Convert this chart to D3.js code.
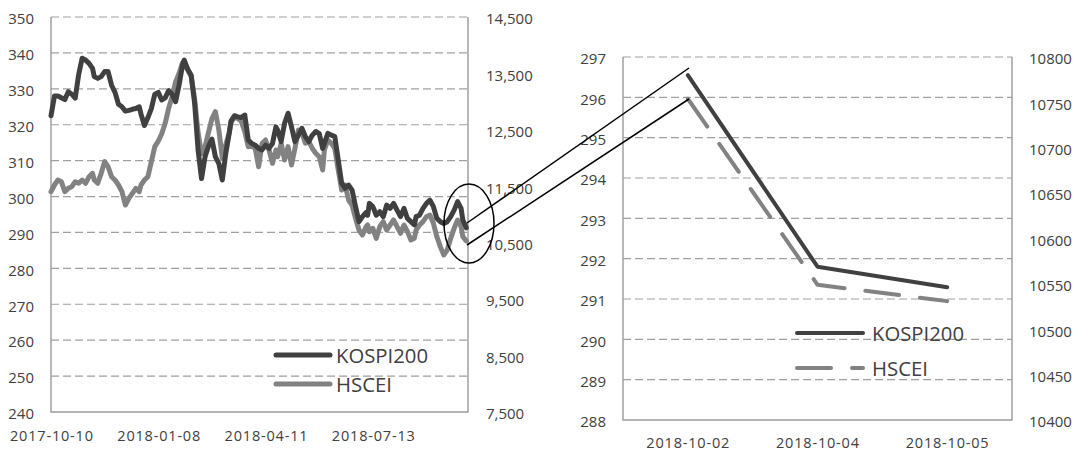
<!DOCTYPE html>
<html><head><meta charset="utf-8">
<script src="https://cdn.jsdelivr.net/npm/d3@7"></script>
<style>
body{margin:0;background:#fff}
svg{display:block}
text{font-family:"Open Sans","Noto Sans",sans-serif;fill:#404040}
</style>
</head><body>
<svg id="c" width="1078" height="452"></svg>
<script>
// ---------- DATA ----------
const seriesNames = ["KOSPI200", "HSCEI"];
// left chart: trading-day index (0 = 2017-10-10) of each sample
const leftDays = [0,2,4,6,8,10,12,14,16,18,20,22,24,25,27,29,31,33,35,37,39,41,43,45,47,49,51,52,54,56,58,60,
  62,64,66,68,70,72,74,76,77,79,81,83,85,87,89,91,93,95,97,99,101,103,104,106,108,110,112,114,116,
  118,120,122,124,126,128,130,131,133,135,137,139,141,143,145,147,149,151,153,155,157,158,160,162,164,166,168,170,172,174,176,178,180,182,
  183,184,186,188,190,192,194,196,198,200,202,204,206,208,210,211,213,215,217,219,221,223,225,227,229,231,233,235,237,238,240];
const kospiLeft = [322.5,328,328,327.5,327,329.2,328.5,327.4,334,338.5,338,337.1,335.7,333.4,332.9,333.4,334.8,334.8,331,329,325.7,325,323.8,324,324.3,324.5,325,323,319.8,322,324.5,328.5,
  329,326.9,327.5,329.5,328.5,326.4,331,336.6,338,335.5,333.8,326,313,305,311,314,316,311.1,309.2,304.6,312,317.6,321,322.5,322.2,322,322.7,315.7,314.8,
  314.3,313.4,313,314.3,313.4,314.8,319.4,318.5,315.3,320.4,323.2,319.4,315.3,317.1,319,316.7,315.3,317.1,318.1,317.6,313.4,314.8,317.6,317.1,316.7,310.2,303.7,302.3,303.2,301.8,297.2,293,294.4,295.5,
  294.8,298.1,297.2,294.8,295.8,294.4,297.6,296.7,298.1,296.2,294.4,296.7,293.9,293,292.1,294.4,294.8,296.7,298.1,299,297.2,293.9,293,292.5,293,294.4,296.2,298.6,296.7,293.5,291.3];
const hsceiLeft = [11404,11523,11611,11581,11404,11464,11493,11581,11553,11611,11553,11670,11730,11611,11553,11730,11936,11847,11670,11611,11523,11404,11168,11287,11375,11464,11404,11523,11611,11670,11936,12202,
  12300,12430,12620,12880,13088,13350,13500,13690,13640,13560,13450,13050,12450,12080,12200,12450,12700,12822,12500,12000,12232,12450,12620,12734,12700,12650,12467,12200,12210,
  12173,11847,12262,12320,12143,11907,12143,12024,12262,11966,12202,11877,12173,12498,12439,12262,12291,12173,12085,12024,11789,12143,12320,12262,12173,11789,11434,11523,11257,11168,10933,10725,10637,10780,
  10814,10696,10755,10578,10784,10873,10725,10814,10903,10784,10667,10814,10696,10548,10578,10725,10814,10873,10962,10991,10844,10607,10430,10282,10371,10578,10755,10903,10784,10607,10531];
const leftDateLabels = ["2017-10-10", "2018-01-08", "2018-04-11", "2018-07-13"];
const leftDateLabelDays = [0, 62, 124, 186];
const leftKospiTicks = [240,250,260,270,280,290,300,310,320,330,340,350];
const leftHsceiTicks = [7500,8500,9500,10500,11500,12500,13500,14500];

const rightDates = ["2018-10-02", "2018-10-04", "2018-10-05"];
const kospiRight = [296.55, 291.8, 291.29];
const hsceiRight = [10754, 10549, 10531];
const rightKospiTicks = [288,289,290,291,292,293,294,295,296,297];
const rightHsceiTicks = [10400,10450,10500,10550,10600,10650,10700,10750,10800];

// ---------- STYLE ----------
const cK = "#404040", cH = "#828282", cGrid = "#a0a0a0", cAxis = "#9a9a9a";
const FS = 15;
const svg = d3.select("#c");

function styleAxis(g){
  g.select(".domain").remove();
  g.selectAll("text").attr("font-size", FS).attr("font-family", '"Open Sans","Noto Sans",sans-serif').attr("fill", "#404040");
}
function dateText(g){
  g.selectAll("text").attr("font-size", 14.5).attr("textLength", 83).attr("lengthAdjust", "spacing");
}

// ---------- LEFT CHART ----------
const L = {x0:51, x1:468, y0:17, y1:412};
const xL = d3.scaleLinear().domain([0, 241]).range([L.x0, L.x1]);
const yLk = d3.scaleLinear().domain([240, 350]).range([L.y1, L.y0]);
const yLh = d3.scaleLinear().domain([7500, 14500]).range([L.y1, L.y0]);

svg.append("g").selectAll("line").data(leftKospiTicks.slice(1)).join("line")
  .attr("x1", L.x0).attr("x2", L.x1).attr("y1", d=>yLk(d)).attr("y2", d=>yLk(d))
  .attr("stroke", cGrid).attr("stroke-width", 1.2).attr("stroke-dasharray", "8,4");
svg.append("path").attr("d", `M${L.x0},${L.y0}V${L.y1}H${L.x1}V${L.y0}`)
  .attr("fill","none").attr("stroke", cAxis).attr("stroke-width", 1.4);

svg.append("g").attr("transform", `translate(${L.x0},0)`)
  .call(d3.axisLeft(yLk).tickValues(leftKospiTicks).tickSize(0).tickPadding(17))
  .call(styleAxis).selectAll("text").attr("dy", "0.45em");
svg.append("g").attr("transform", `translate(${L.x1},0)`)
  .call(d3.axisRight(yLh).tickValues(leftHsceiTicks).tickSize(0).tickPadding(18).tickFormat(d3.format(",")))
  .call(styleAxis).selectAll("text").attr("dy", "0.45em");
svg.append("g").attr("transform", `translate(0,${L.y1})`)
  .call(d3.axisBottom(xL).tickValues(leftDateLabelDays).tickSize(0).tickPadding(19).tickFormat((d,i)=>leftDateLabels[i]))
  .call(styleAxis).call(dateText);

const leftPts = leftDays.map((d,i)=>({d, k:kospiLeft[i], h:hsceiLeft[i]}));
svg.append("path").datum(leftPts)
  .attr("d", d3.line().x(p=>xL(p.d)).y(p=>yLh(p.h)))
  .attr("fill","none").attr("stroke", cH).attr("stroke-width", 5).attr("stroke-linejoin","round").attr("stroke-linecap","round");
svg.append("path").datum(leftPts)
  .attr("d", d3.line().x(p=>xL(p.d)).y(p=>yLk(p.k)))
  .attr("fill","none").attr("stroke", cK).attr("stroke-width", 5).attr("stroke-linejoin","round").attr("stroke-linecap","round");

// left legend
const lg = svg.append("g");
[[355, cK, seriesNames[0], 92], [384, cH, seriesNames[1], 56]].forEach(([y,c,t,w])=>{
  lg.append("line").attr("x1",276).attr("x2",330).attr("y1",y).attr("y2",y)
    .attr("stroke",c).attr("stroke-width",5).attr("stroke-linecap","round");
  lg.append("text").attr("x",336).attr("y",y+8).attr("font-size",20)
    .attr("textLength", w).attr("lengthAdjust","spacingAndGlyphs").text(t);
});

// ---------- RIGHT CHART ----------
const R = {x0:623, x1:1012, y0:57, y1:420};
const xR = d3.scaleBand().domain(rightDates).range([R.x0, R.x1]);
const cx = d => xR(d) + xR.bandwidth()/2;
const yRk = d3.scaleLinear().domain([288, 297]).range([R.y1, R.y0]);
const yRh = d3.scaleLinear().domain([10400, 10800]).range([R.y1, R.y0]);

svg.append("g").selectAll("line").data(rightKospiTicks.slice(1)).join("line")
  .attr("x1", R.x0).attr("x2", R.x1).attr("y1", d=>yRk(d)).attr("y2", d=>yRk(d))
  .attr("stroke", cGrid).attr("stroke-width", 1.2).attr("stroke-dasharray", "8,4");
svg.append("path").attr("d", `M${R.x0},${R.y0}V${R.y1}H${R.x1}V${R.y0}`)
  .attr("fill","none").attr("stroke", cAxis).attr("stroke-width", 1.4);

svg.append("g").attr("transform", `translate(${R.x0},0)`)
  .call(d3.axisLeft(yRk).tickValues(rightKospiTicks).tickSize(0).tickPadding(17))
  .call(styleAxis).selectAll("text").attr("dy", "0.45em");
svg.append("g").attr("transform", `translate(${R.x1},0)`)
  .call(d3.axisRight(yRh).tickValues(rightHsceiTicks).tickSize(0).tickPadding(17).tickFormat(d3.format("d")))
  .call(styleAxis).selectAll("text").attr("dy", "0.45em");
svg.append("g").attr("transform", `translate(0,${R.y1})`)
  .call(d3.axisBottom(xR).tickSize(0).tickPadding(18))
  .call(styleAxis).call(dateText);

svg.append("path").datum(rightDates)
  .attr("d", d3.line().x(d=>cx(d)).y((d,i)=>yRh(hsceiRight[i])))
  .attr("fill","none").attr("stroke", cH).attr("stroke-width", 4).attr("stroke-dasharray","34,21").attr("stroke-linecap","round").attr("stroke-linejoin","round");
svg.append("path").datum(rightDates)
  .attr("d", d3.line().x(d=>cx(d)).y((d,i)=>yRk(kospiRight[i])))
  .attr("fill","none").attr("stroke", cK).attr("stroke-width", 4).attr("stroke-linecap","round").attr("stroke-linejoin","round");

// right legend
const rg = svg.append("g");
rg.append("line").attr("x1",797).attr("x2",863).attr("y1",333).attr("y2",333)
  .attr("stroke",cK).attr("stroke-width",4).attr("stroke-linecap","round");
rg.append("text").attr("x",872).attr("y",341).attr("font-size",20)
  .attr("textLength",92).attr("lengthAdjust","spacingAndGlyphs").text(seriesNames[0]);
rg.append("line").attr("x1",797).attr("x2",863).attr("y1",368).attr("y2",368)
  .attr("stroke",cH).attr("stroke-width",4).attr("stroke-linecap","round").attr("stroke-dasharray","34,21");
rg.append("text").attr("x",872).attr("y",376).attr("font-size",20)
  .attr("textLength",56).attr("lengthAdjust","spacingAndGlyphs").text(seriesNames[1]);

// ---------- ZOOM ANNOTATION ----------
const ann = svg.append("g").attr("fill","none").attr("stroke","#000").attr("stroke-width",1.5);
ann.append("ellipse").attr("cx",469).attr("cy",223.5).attr("rx",25).attr("ry",39.5);
ann.append("line").attr("x1",467).attr("y1",223).attr("x2",689).attr("y2",68);
ann.append("line").attr("x1",467).attr("y1",245).attr("x2",689).attr("y2",99);
</script>
</body></html>
